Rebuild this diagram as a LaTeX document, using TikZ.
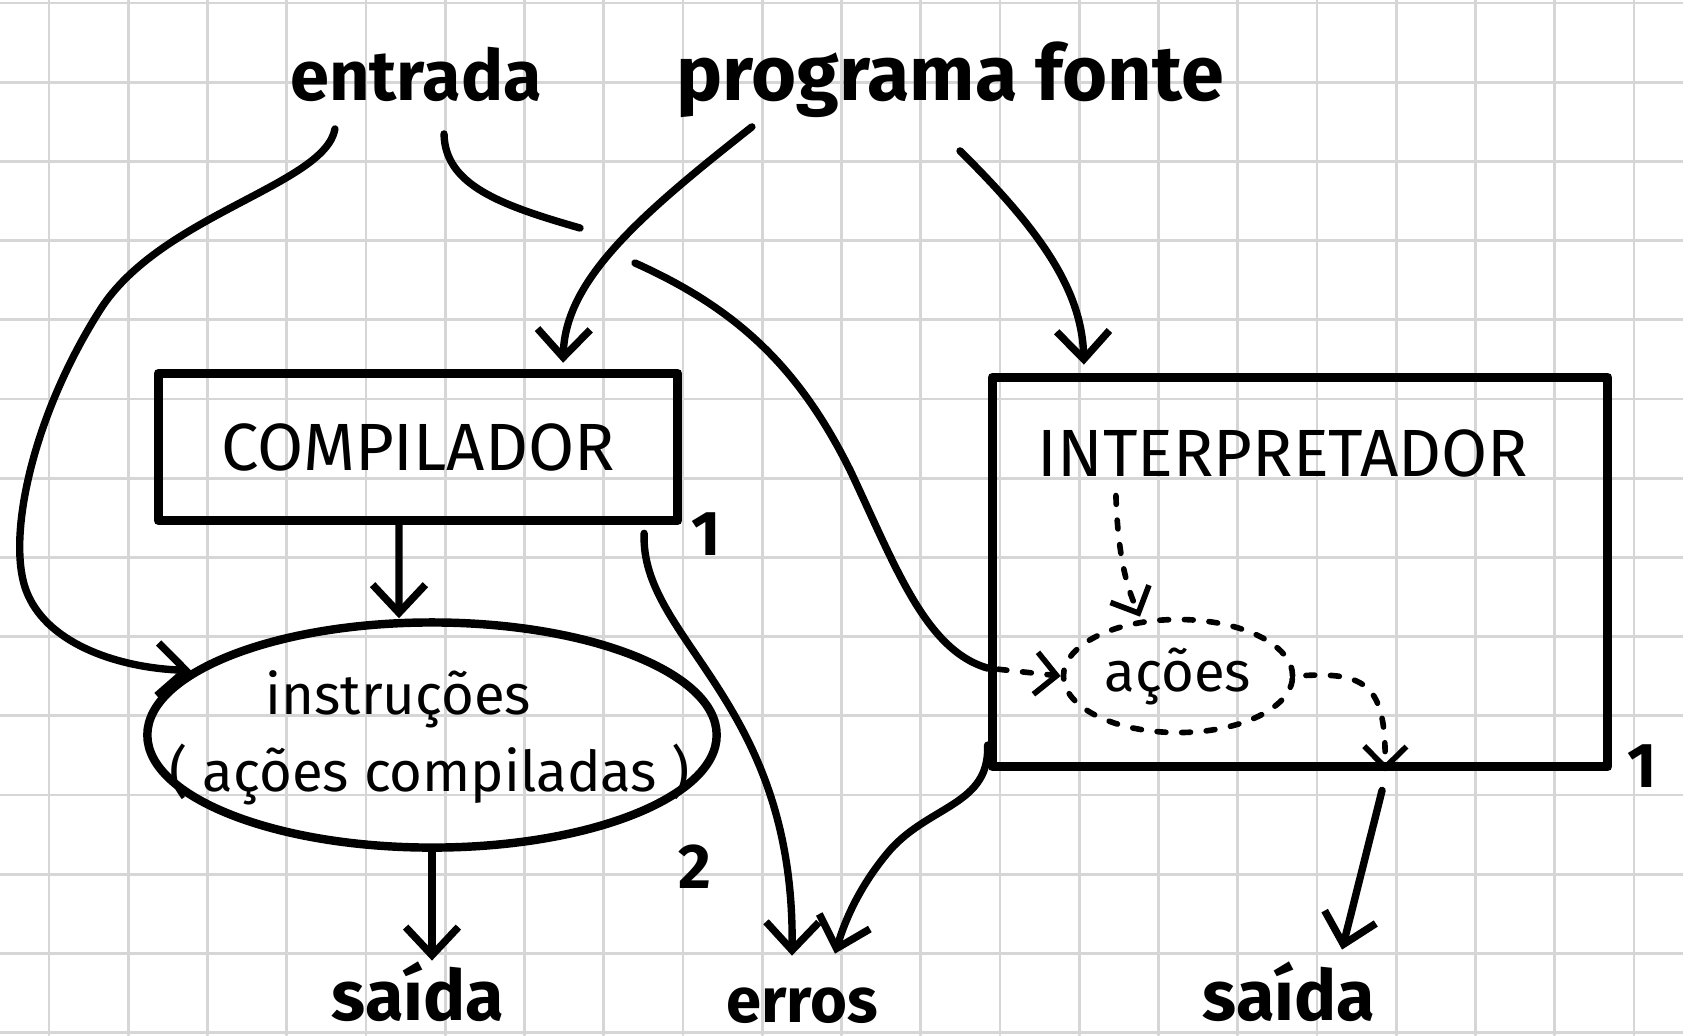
\documentclass[tikz,border=0pt]{standalone}
\usepackage{fontspec}
\setmainfont{Fira Sans}
\usetikzlibrary{arrows.meta,shapes.geometric}
\definecolor{gridgray}{RGB}{214,214,214}

\begin{document}
\begin{tikzpicture}[x=0.01cm,y=-0.01cm,line cap=round,line join=round,
		conn/.style={-{Straight Barb[length=8pt,width=15pt]},line width=2.1pt},
		dots/.style={-{Straight Barb[length=6pt,width=12pt]},line width=1.6pt,dash pattern=on 2.5pt off 4.5pt},
		box node/.style={draw,line width=2.7pt,inner sep=0pt,font=\fontsize{19}{22}\selectfont},
		oval node/.style={draw,ellipse,line width=2.4pt,inner sep=0pt},
		word node/.style={anchor=base,inner sep=0pt,font=\fontsize{20}{24}\selectfont\bfseries},
		num node/.style={anchor=base,inner sep=0pt,font=\fontsize{18}{20}\selectfont\bfseries}]
		%grid paper
		\useasboundingbox (0,0) rectangle (1683,1035);
		\fill[white] (0,0) rectangle (1683,1035);
		\foreach \i in {0,...,20}
		\draw[gridgray,line width=0.8pt] ({49+79.25*\i},0) -- ({49+79.25*\i},1035);
		\foreach \j in {0,...,13}
		\draw[gridgray,line width=0.8pt] (0,{3+79.2*\j}) -- (1683,{3+79.2*\j});
		
		\node[word node] (entrada) at (416,100) {entrada};
		\node[word node,font=\fontsize{22}{26}\selectfont\bfseries] (prog) at (950,100) {programa fonte};
		
		\node[box node,minimum width=5.19cm,minimum height=1.47cm] (comp) at (418,447) {COMPILADOR};
		\node[num node] (n1) at (706,555) {1};
		\node[oval node,minimum width=5.69cm,minimum height=2.25cm] (instr) at (432,735) {};
		\node[align=center,inner sep=0pt,font=\fontsize{16}{22}\selectfont] (instrtxt) at (430,738) {instruções\hspace*{18pt}\\( ações compiladas )};
		\node[num node] (n2) at (695,888) {2};
		
		\node[box node,minimum width=6.15cm,minimum height=3.89cm] (interp) at (1300,572) {};
		\node[word node,font=\fontsize{19}{22}\selectfont] (interptxt) at (1283,476) {INTERPRETADOR};
		\node[oval node,dash pattern=on 2.5pt off 4.5pt,line width=1.6pt,minimum width=2.29cm,minimum height=1.13cm,font=\fontsize{16}{20}\selectfont] (acoes) at (1178,676) {ações};
		\node[num node] (n3) at (1642,787) {1};
		
		\node[word node] (saida1) at (418,1020) {saída};
		\node[word node,font=\fontsize{18}{22}\selectfont\bfseries] (erros) at (802,1022) {erros};
		\node[word node] (saida2) at (1289,1020) {saída};
		
		\coordinate (hop1) at (580,228);
		\coordinate (hop2) at (635,263);
		\coordinate (inw) at ([yshift=-0.96cm]interp.west);
		
		\draw[conn] ([xshift=-0.81cm,yshift=-0.27cm]entrada.south) .. controls (325,185) and (160,215) .. (100,310)
		.. controls (30,420) and (5,545) .. (28,595) .. controls (50,645) and (120,668) .. (instr.165);
		\draw[line width=2.1pt] ([xshift=0.28cm,yshift=-0.32cm]entrada.south) .. controls (445,185) and (500,205) .. (hop1);
		\draw[line width=2.1pt] (hop2) .. controls (740,310) and (800,370) .. (850,470)
		.. controls (895,565) and (925,650) .. (inw);
		\draw[conn] ([xshift=-1.98cm,yshift=-0.09cm]prog.south) .. controls (640,215) and (565,280) .. ([xshift=1.45cm,yshift=0.06cm]comp.north);
		\draw[conn] ([xshift=0.1cm,yshift=-0.33cm]prog.south) .. controls (1040,230) and (1082,290) .. ([xshift=-2.16cm,yshift=0.08cm]interp.north);
		
		\draw[conn] ([xshift=-0.19cm]comp.south) -- ([xshift=-0.33cm]instr.north);
		\draw[conn] (instr.south) -- (instr.south |- saida1.north);
		\draw[conn] ([xshift=2.26cm,yshift=-0.08cm]comp.south) .. controls (640,640) and (795,700) .. ([xshift=-0.1cm,yshift=0.31cm]erros.north);
		\draw[conn] ([yshift=-1.73cm]interp.west) .. controls (990,805) and (930,805) .. (890,850)
		.. controls (860,885) and (845,920) .. ([xshift=0.33cm,yshift=0.33cm]erros.north);
		\draw[conn] ([xshift=0.82cm,yshift=-0.19cm]interp.south) -- ([xshift=0.53cm,yshift=0.11cm]saida2.north);
		
		\draw[dots,shorten <=3pt] (inw) -- (acoes.west);
		\draw[dots] ([xshift=-1.67cm,yshift=-0.18cm]interptxt.south) .. controls (1118,560) and (1128,590) .. ([xshift=-0.38cm]acoes.north);
		\draw[dots,shorten <=3pt] (acoes.east) .. controls (1370,672) and (1386,690) .. ([xshift=0.85cm]interp.south);
\end{tikzpicture}
\end{document}
